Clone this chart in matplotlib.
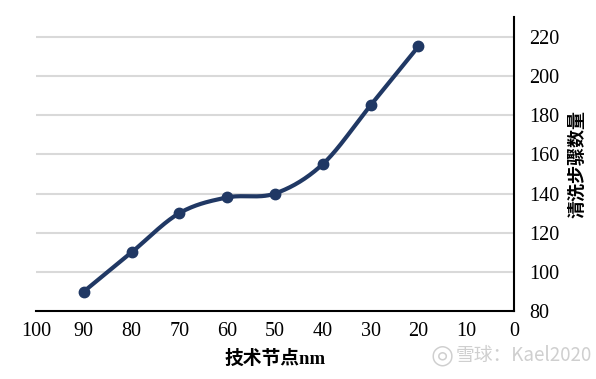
import numpy as np
import matplotlib
matplotlib.use("Agg")
import matplotlib.pyplot as plt

# data
nodes = [90, 80, 70, 60, 50, 40, 30, 20]
steps = [90, 110, 130, 138, 140, 155, 185, 215]
x_ticks = [100, 90, 80, 70, 60, 50, 40, 30, 20, 10, 0]
y_ticks = [80, 100, 120, 140, 160, 180, 200, 220]

LINE = "#203864"
SERIF = ["Liberation Serif", "Noto Sans CJK SC"]


def smooth(x, y, n=30):
    """Catmull-Rom style curve through the points (like Excel smoothed lines)."""
    x = np.asarray(x, float)
    y = np.asarray(y, float)
    px = np.concatenate([[x[0]], x, [x[-1]]])
    py = np.concatenate([[y[0]], y, [y[-1]]])
    xs, ys = [], []
    for i in range(1, len(px) - 2):
        p0, p1, p2, p3 = [np.array([px[j], py[j]]) for j in (i - 1, i, i + 1, i + 2)]
        c1 = p1 + (p2 - p0) / 6
        c2 = p2 - (p3 - p1) / 6
        t = np.linspace(0, 1, n)[:, None]
        b = (1 - t) ** 3 * p1 + 3 * (1 - t) ** 2 * t * c1 + 3 * (1 - t) * t ** 2 * c2 + t ** 3 * p2
        xs.extend(b[:, 0])
        ys.extend(b[:, 1])
    return np.array(xs), np.array(ys)


fig = plt.figure(figsize=(5.96, 3.79), dpi=100)
ax = fig.add_axes([0.0604, 0.179, 0.8020, 0.776])

ax.set_xlim(100, 0)
ax.set_ylim(80, 230)
ax.set_xticks(x_ticks)
ax.set_yticks(y_ticks)
ax.yaxis.tick_right()
ax.yaxis.set_label_position("right")

for v in y_ticks[1:]:
    ax.axhline(v, color="#d9d9d9", lw=1.5, zorder=0)

sx, sy = smooth(nodes, steps)
ax.plot(sx, sy, color=LINE, lw=3.0, solid_capstyle="round", zorder=3)
ax.plot(nodes, steps, "o", color=LINE, ms=7.5, zorder=4)

for s in ["top", "left"]:
    ax.spines[s].set_visible(False)
ax.spines["right"].set_linewidth(1.5)
ax.spines["bottom"].set_linewidth(1.5)
ax.tick_params(axis="both", length=0, labelsize=14.5)
ax.tick_params(axis="y", pad=11)
ax.tick_params(axis="x", pad=8)
for lab in ax.get_xticklabels() + ax.get_yticklabels():
    lab.set_family(SERIF)

ax.set_xlabel("技术节点nm", family=SERIF, fontsize=13.5, fontweight="bold", labelpad=6)
ax.set_ylabel("清洗步骤数量", family=SERIF, fontsize=13, fontweight="bold",
              rotation=90, labelpad=7)

fig.text(0.722, 0.062, "◎", ha="left", va="center", fontsize=19,
         color="#cfcfcf", family=["DejaVu Sans"])
fig.text(0.993, 0.062, "雪球：Kael2020", ha="right", va="center", fontsize=13.5,
         color="#cfcfcf", family=["Noto Sans CJK SC", "DejaVu Sans"])

fig.savefig("out.png", dpi=100)
